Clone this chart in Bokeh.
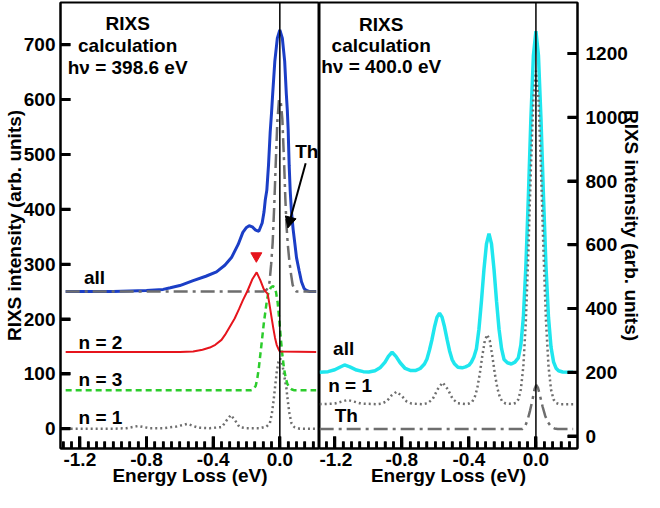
from bokeh.plotting import figure
from bokeh.layouts import row
from bokeh.models import Range1d, FixedTicker, Span, Arrow, NormalHead
from bokeh.core.properties import value
from bokeh.embed import file_html
from bokeh.resources import INLINE

# ---------------- data: left panel (hv = 398.6 eV) ----------------
left_all_e = [-1.285, -1.0, -0.8, -0.7, -0.657, -0.6, -0.52, -0.444, -0.38, -0.33, -0.29, -0.25, -0.222, -0.2,
              -0.184, -0.165, -0.145, -0.126, -0.106, -0.095, -0.087, -0.078, -0.068, -0.058, -0.05, -0.043,
              -0.03, -0.015, 0.0, 0.015, 0.029, 0.039, 0.045, 0.05, 0.056, 0.062, 0.07, 0.08, 0.09, 0.1,
              0.116, 0.13, 0.145, 0.16, 0.18, 0.218]
left_all_v = [250, 250, 252, 254, 257, 261, 270, 278, 286, 298, 312, 336, 358, 367,
              370, 368, 362, 360, 375, 395, 418, 435, 480, 540, 575, 610,
              670, 712, 727, 712, 670, 610, 580, 545, 480, 435, 395, 363, 338, 312,
              288, 268, 256, 252, 250, 250]

left_th_e = [-1.285, -0.1, -0.08, -0.07, -0.062, -0.052, -0.043, -0.033, -0.025, -0.015, -0.005, 0.005,
             0.015, 0.025, 0.033, 0.04, 0.048, 0.058, 0.068, 0.077, 0.09, 0.1, 0.218]
left_th_v = [250, 250, 253, 258, 267, 300, 339, 411, 480, 560, 600, 598,
             565, 490, 420, 370, 335, 303, 280, 262, 253, 250, 250]

left_n2_e = [-1.285, -0.6, -0.52, -0.464, -0.42, -0.387, -0.35, -0.329, -0.3, -0.271, -0.245, -0.222,
             -0.193, -0.164, -0.139, -0.116, -0.097, -0.085, -0.073, -0.065, -0.058, -0.048, -0.039,
             -0.029, -0.019, -0.008, 0.0, 0.218]
left_n2_v = [140, 140, 141, 144, 148, 153, 162, 171, 186, 201, 218, 234,
             252, 273, 285, 270, 255, 250, 246, 232, 219, 200, 183,
             166, 153, 145, 141, 140]

left_n3_e = [-1.285, -0.175, -0.164, -0.155, -0.145, -0.136, -0.126, -0.116, -0.106, -0.097, -0.087,
             -0.078, -0.068, -0.055, -0.043, -0.033, -0.023, -0.013, -0.004, 0.005, 0.015, 0.025,
             0.035, 0.045, 0.058, 0.07, 0.087, 0.218]
left_n3_v = [70, 70, 71, 74, 78, 90, 111, 138, 165, 190, 213,
             233, 249, 257, 260, 258, 249, 230, 201, 168, 135, 110,
             93, 82, 75, 72, 70, 70]

left_n1_e = [-1.285, -1.0, -0.92, -0.85, -0.78, -0.7, -0.62, -0.555, -0.49, -0.42, -0.348, -0.32,
             -0.294, -0.268, -0.242, -0.2, -0.12, -0.08, -0.06, -0.048, -0.038, -0.029, -0.018,
             -0.008, 0.002, 0.012, 0.022, 0.031, 0.039, 0.048, 0.058, 0.07, 0.087, 0.12, 0.218]
left_n1_v = [0, 0, 1, 5, 1, 1, 4, 9, 2, 1, 3, 15,
             25, 15, 3, 1, 1, 4, 10, 27, 50, 75, 105,
             122, 128, 122, 105, 88, 75, 50, 27, 10, 3, 0, 0]

left_marker_e = [-0.141]
left_marker_v = [315]

# ---------------- data: right panel (hv = 400.0 eV) ----------------
right_all_e = [-1.29, -1.24, -1.2, -1.17, -1.142, -1.11, -1.07, -1.03, -0.997, -0.96, -0.93, -0.9, -0.88,
               -0.858, -0.835, -0.81, -0.78, -0.75, -0.716, -0.69, -0.665, -0.65, -0.635, -0.62, -0.605,
               -0.59, -0.575, -0.56, -0.545, -0.53, -0.515, -0.5, -0.485, -0.465, -0.44, -0.42, -0.4,
               -0.385, -0.37, -0.355, -0.34, -0.325, -0.31, -0.295, -0.28, -0.265, -0.25, -0.235, -0.22,
               -0.205, -0.19, -0.17, -0.147, -0.125, -0.105, -0.09, -0.075, -0.06, -0.045, -0.03, -0.015,
               0.0, 0.015, 0.03, 0.045, 0.06, 0.075, 0.09, 0.105, 0.12, 0.135, 0.16, 0.222]
right_all_v = [200, 202, 208, 216, 223, 217, 207, 202, 201, 205, 214, 232, 250,
               263, 250, 230, 212, 206, 206, 212, 226, 242, 270, 303, 342,
               373, 385, 373, 342, 303, 267, 240, 226, 216, 214, 217, 222,
               232, 248, 274, 335, 423, 523, 603, 635, 603, 523, 423, 335,
               274, 240, 230, 226, 232, 245, 285, 372, 532, 752, 997, 1194,
               1270, 1194, 997, 752, 532, 372, 279, 233, 213, 205, 201, 200]

right_n1_e = [-1.29, -1.2, -1.16, -1.123, -1.085, -1.045, -0.95, -0.92, -0.89, -0.862, -0.832, -0.802,
              -0.772, -0.742, -0.68, -0.646, -0.616, -0.586, -0.556, -0.526, -0.496, -0.466, -0.42, -0.4,
              -0.38, -0.365, -0.35, -0.335, -0.32, -0.305, -0.29, -0.275, -0.26, -0.245, -0.23, -0.215,
              -0.2, -0.18, -0.14, -0.12, -0.105, -0.09, -0.075, -0.06, -0.045, -0.03, -0.015, 0.0,
              0.015, 0.03, 0.045, 0.06, 0.075, 0.09, 0.105, 0.12, 0.14, 0.222]
right_n1_v = [100, 102, 108, 113, 108, 102, 100, 102, 109, 127, 139, 127,
              109, 102, 100, 103, 116, 147, 168, 147, 116, 103, 100, 102,
              108, 122, 150, 195, 251, 299, 318, 299, 251, 195, 150, 122,
              108, 102, 101, 104, 115, 146, 219, 361, 579, 839, 1059, 1146,
              1059, 839, 579, 361, 219, 146, 115, 104, 100, 100]

right_th_e = [-1.29, -0.08, -0.065, -0.05, -0.035, -0.02, -0.008, 0.002, 0.012, 0.025, 0.04, 0.055,
              0.07, 0.09, 0.11, 0.13, 0.222]
right_th_v = [22, 22, 30, 50, 80, 115, 148, 160, 152, 125, 92, 64,
              45, 30, 24, 22, 22]

# ticks
x_major_ticks = [-1.2, -0.8, -0.4, 0.0]
x_tick_labels = {-1.2: "-1.2", -0.8: "-0.8", -0.4: "-0.4", 0.0: "0.0"}
x_minor_ticks = [round(-1.3 + 0.05 * i, 2) for i in range(31)]
left_y_ticks = [0, 100, 200, 300, 400, 500, 600, 700]
right_y_ticks = [0, 200, 400, 600, 800, 1000, 1200]

FONT = "Liberation Sans"
BLUE = "#1b3ec6"
RED = "#e6141c"
GREEN = "#2ccc2c"
CYAN = "#1fe6ee"
GRAY = "#6e6e6e"
H = 492
TOP, BOTTOM = 2, 44
FH = H - TOP - BOTTOM
FS = "19px"


def style_axis(ax, ticks, minor, tick_in, labels=None):
    ax.ticker = FixedTicker(ticks=ticks, minor_ticks=minor)
    if labels:
        ax.major_label_overrides = labels
    ax.major_tick_in = tick_in
    ax.major_tick_out = 0
    ax.minor_tick_in = 7 if minor else 0
    ax.minor_tick_out = 0
    ax.major_tick_line_color = "black"
    ax.major_tick_line_width = 3
    ax.minor_tick_line_color = "black" if minor else None
    ax.minor_tick_line_width = 2.5
    ax.axis_line_width = 2
    ax.axis_line_color = "black"
    ax.major_label_text_font = FONT
    ax.major_label_text_font_style = "bold"
    ax.major_label_text_font_size = FS
    ax.major_label_text_color = "black"
    ax.axis_label_text_font = FONT
    ax.axis_label_text_font_style = "bold"
    ax.axis_label_text_font_size = FS
    ax.axis_label_text_color = "black"


def make_fig(xr, yr, width, mbl, mbr, yloc):
    p = figure(width=width, height=H, x_range=Range1d(*xr), y_range=Range1d(*yr),
               output_backend="svg", toolbar_location=None, y_axis_location=yloc,
               min_border_left=mbl, min_border_right=mbr, min_border_top=TOP, min_border_bottom=BOTTOM)
    p.xgrid.visible = False
    p.ygrid.visible = False
    p.outline_line_color = "black"
    p.outline_line_width = 2
    style_axis(p.xaxis[0], x_major_ticks, x_minor_ticks, 12, x_tick_labels)
    p.xaxis.axis_label = "Energy Loss (eV)"
    p.xaxis.major_label_standoff = 4
    p.xaxis.axis_label_standoff = -4
    p.add_layout(Span(location=0, dimension="height", line_color="black", line_width=1.5))
    return p


def inner_ticks(p, xr, yr, fw, y_ticks, side):
    # inward tick marks also drawn as short segments lying inside the frame
    dx = (xr[1] - xr[0]) / fw
    dy = (yr[1] - yr[0]) / FH
    for ticks, length, lw in ((x_major_ticks, 12, 3), (x_minor_ticks, 7, 2.5)):
        n = len(ticks)
        p.segment(x0=ticks, y0=[yr[0]] * n, x1=ticks, y1=[yr[0] + length * dy] * n,
                  line_color="black", line_width=lw)
    n = len(y_ticks)
    xe = xr[0] if side == "left" else xr[1]
    sgn = 1 if side == "left" else -1
    p.segment(x0=[xe] * n, y0=y_ticks, x1=[xe + sgn * 10 * dx] * n, y1=y_ticks,
              line_color="black", line_width=3)


def texts(p, xs, ys, labels, align="center"):
    p.text(x=xs, y=ys, text=labels, text_font=value(FONT), text_font_style="bold",
           text_font_size=FS, text_align=align, text_baseline="middle", text_color="black")


# ---------------- left panel ----------------
W1, MBL1 = 319, 55
XR1, YR1 = (-1.316, 0.238), (-36, 777)
p1 = make_fig(XR1, YR1, W1, MBL1, 0, "left")
style_axis(p1.yaxis[0], left_y_ticks, [], 10)
p1.yaxis.axis_label = "RIXS intensity (arb. units)"
p1.yaxis.major_label_standoff = 5
p1.yaxis.axis_label_standoff = -4

p1.line(left_all_e, left_all_v, line_color=BLUE, line_width=3)
p1.line(left_th_e, left_th_v, line_color=GRAY, line_width=2.5, line_dash="14 5 3 5")
p1.line(left_n1_e, left_n1_v, line_color=GRAY, line_width=2.5, line_dash="2 3")
p1.line(left_n3_e, left_n3_v, line_color=GREEN, line_width=2.5, line_dash="6 4")
p1.line(left_n2_e, left_n2_v, line_color=RED, line_width=2)
p1.scatter(left_marker_e, left_marker_v, marker="inverted_triangle", size=11,
           fill_color=RED, line_color=RED)
inner_ticks(p1, XR1, YR1, W1 - MBL1, left_y_ticks, "left")

texts(p1, [-0.913] * 3, [738, 698, 659], ["RIXS", "calculation", "h\u03bd = 398.6 eV"])
texts(p1, [-1.175, -1.208, -1.208, -1.208], [275, 158, 90, 21], ["all", "n = 2", "n = 3", "n = 1"], "left")
texts(p1, [0.162], [505], ["Th"])
p1.add_layout(Arrow(end=NormalHead(size=11, fill_color="black", line_color="black"),
                    x_start=0.155, y_start=484, x_end=0.048, y_end=366,
                    line_color="black", line_width=2))

# ---------------- right panel ----------------
W2, MBR2 = 325, 62
XR2, YR2 = (-1.291, 0.248), (-39, 1360)
p2 = make_fig(XR2, YR2, W2, 0, MBR2, "right")
style_axis(p2.yaxis[0], right_y_ticks, [], 10)
p2.yaxis.axis_label = "RIXS intensity (arb. units)"
p2.yaxis.major_label_standoff = 8
p2.yaxis.axis_label_standoff = -10

p2.line(right_all_e, right_all_v, line_color=CYAN, line_width=3.5)
p2.line(right_n1_e, right_n1_v, line_color=GRAY, line_width=2.5, line_dash="2 3")
p2.line(right_th_e, right_th_v, line_color=GRAY, line_width=2.5, line_dash="14 5 3 5")
inner_ticks(p2, XR2, YR2, W2 - MBR2, right_y_ticks, "right")

texts(p2, [-0.923] * 3, [1291, 1224, 1158], ["RIXS", "calculation", "h\u03bd = 400.0 eV"])
texts(p2, [-1.21, -1.239, -1.2], [276, 158, 65], ["all", "n = 1", "Th"], "left")

layout = row(p1, p2)
open("out.html", "w").write(file_html(layout, INLINE))
